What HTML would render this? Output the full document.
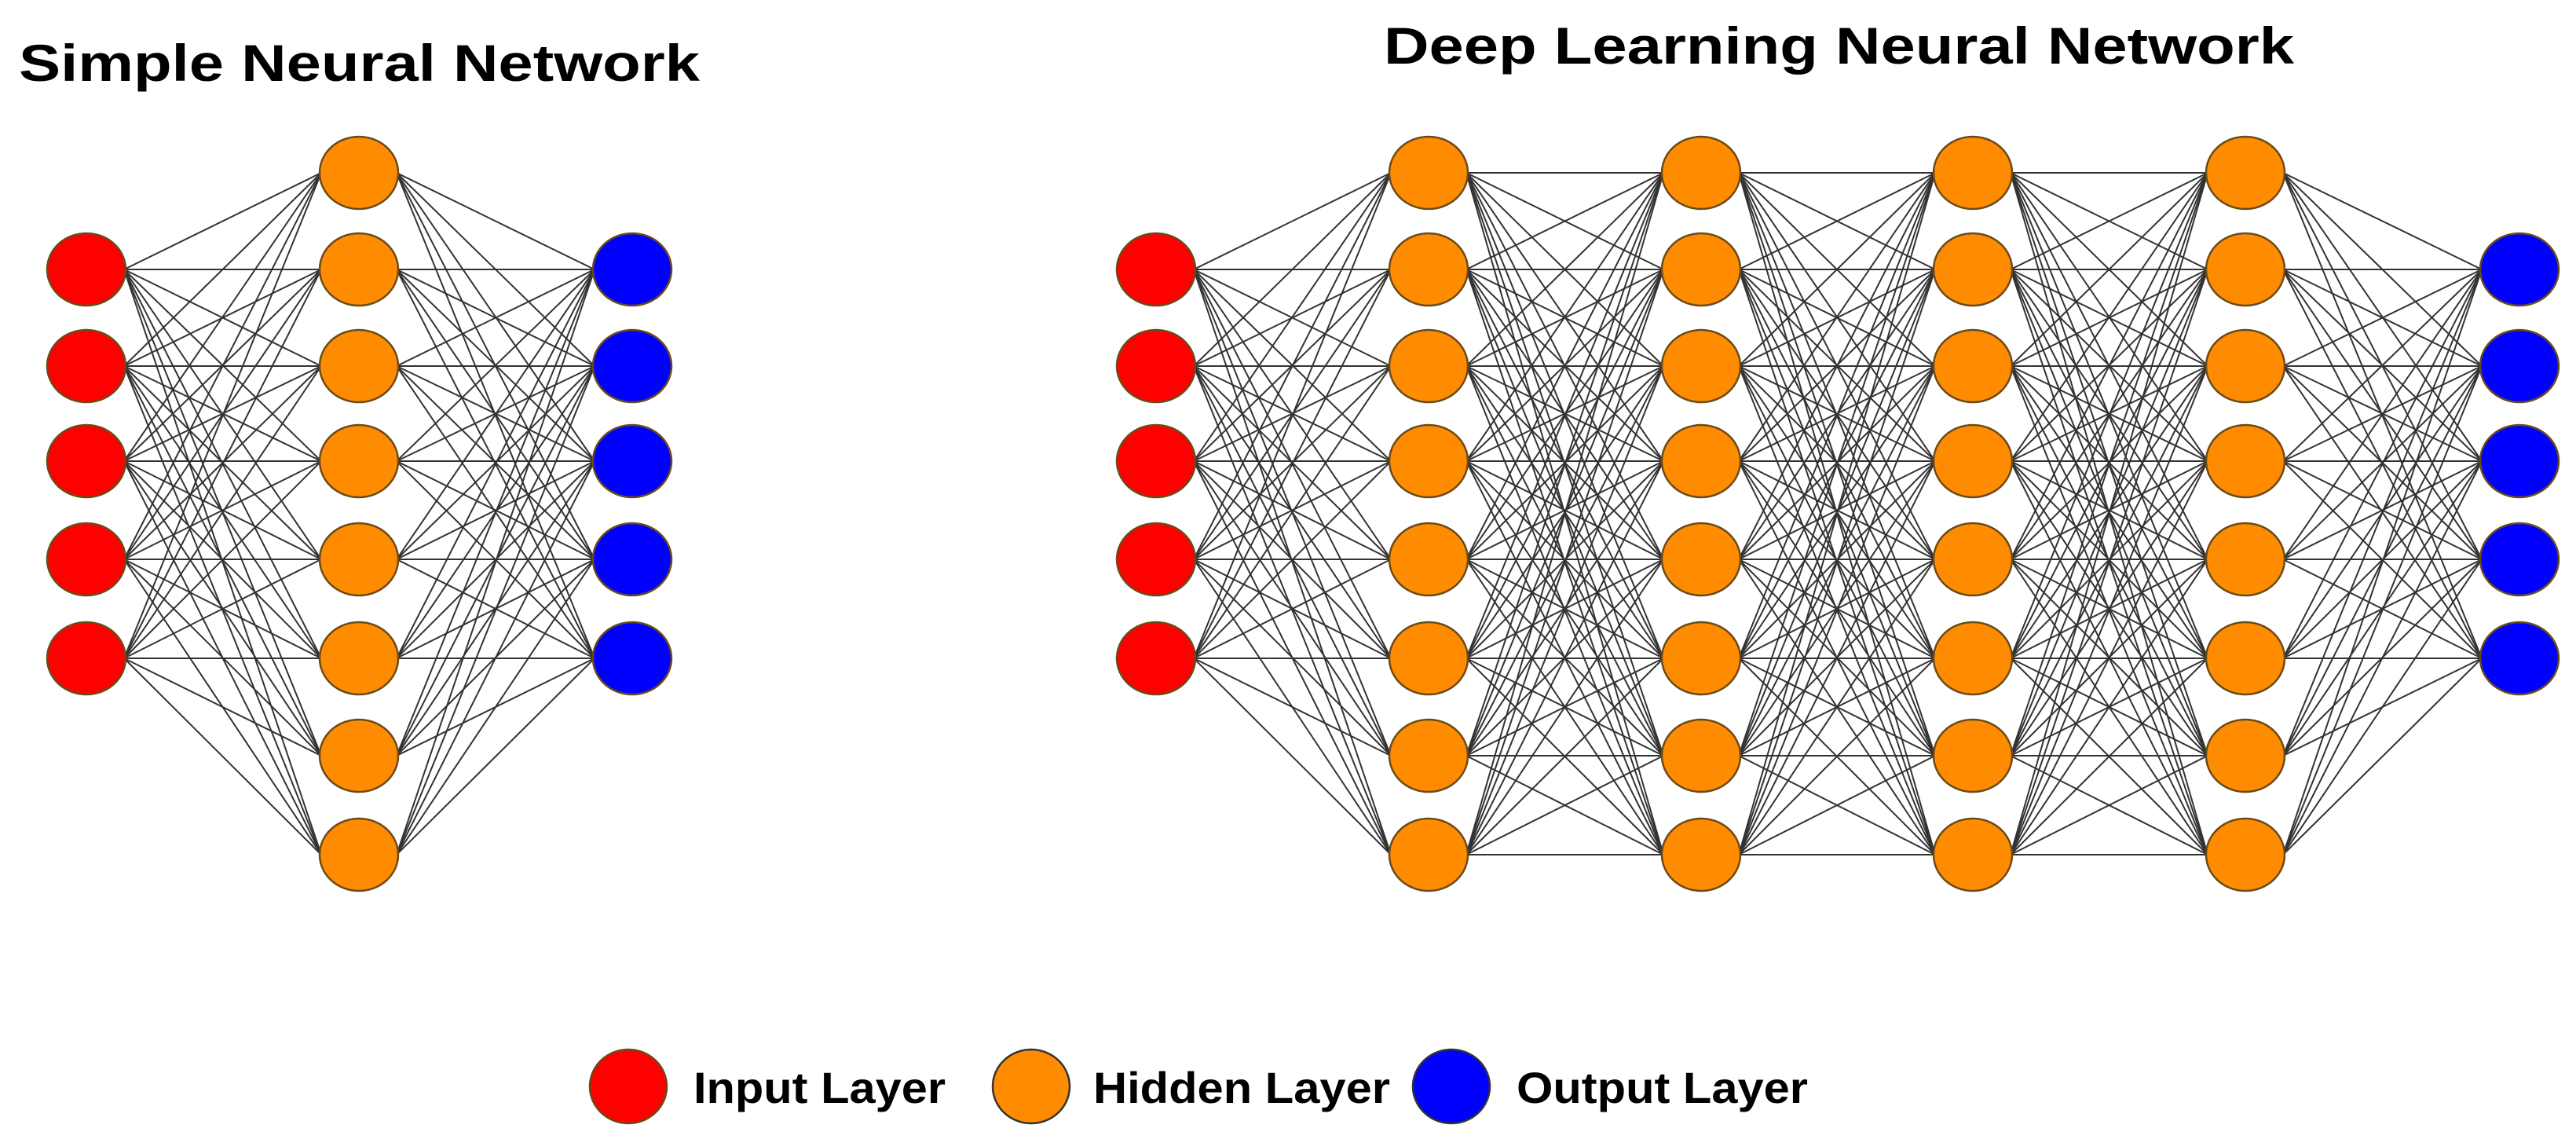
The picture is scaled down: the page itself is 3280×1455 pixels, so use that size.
<!DOCTYPE html>
<html><head><meta charset="utf-8"><style>
html,body{margin:0;padding:0;background:#fff;}
svg{display:block;}
text{font-family:"Liberation Sans",Arial,sans-serif;font-weight:bold;fill:#000;}
</style></head><body>
<svg id="s" width="3280" height="1455" viewBox="0 0 3280 1455" xmlns="http://www.w3.org/2000/svg">
<g id="lines" stroke="#333" stroke-width="2" fill="none"></g>
<g id="nodes" stroke="#6b4a1a" stroke-width="2.5"></g>
<text x="24" y="103" font-size="66" textLength="867" lengthAdjust="spacingAndGlyphs">Simple Neural Network</text>
<text x="1762" y="81" font-size="66" textLength="1159" lengthAdjust="spacingAndGlyphs">Deep Learning Neural Network</text>
<ellipse cx="800" cy="1383" rx="49" ry="47" fill="#ff0000" stroke="#6b4a1a" stroke-width="2.5"/>
<ellipse cx="1313" cy="1383" rx="49" ry="47" fill="#ff8c00" stroke="#333" stroke-width="2.5"/>
<ellipse cx="1848" cy="1383" rx="49" ry="47" fill="#0000ff" stroke="#333" stroke-width="2.5"/>
<text x="883" y="1404" font-size="56" textLength="321" lengthAdjust="spacingAndGlyphs">Input Layer</text>
<text x="1392" y="1404" font-size="56" textLength="378" lengthAdjust="spacingAndGlyphs">Hidden Layer</text>
<text x="1931" y="1404" font-size="56" textLength="371" lengthAdjust="spacingAndGlyphs">Output Layer</text>
</svg>
<script>
var NS="http://www.w3.org/2000/svg";
var io=[343,466,587,712,838], hid=[220,343,466,587,712,838,962,1088];
var RX=50,RY=46;
var C={i:"#ff0000",h:"#ff8c00",o:"#0000ff"};
function net(cols){
  var L=document.getElementById("lines"),N=document.getElementById("nodes");
  for(var k=0;k<cols.length-1;k++){
    var a=cols[k],b=cols[k+1];
    a.ys.forEach(function(y1){b.ys.forEach(function(y2){
      var l=document.createElementNS(NS,"line");
      l.setAttribute("x1",a.x+RX-2);l.setAttribute("y1",y1);
      l.setAttribute("x2",b.x-RX+2);l.setAttribute("y2",y2);
      L.appendChild(l);});});
  }
  cols.forEach(function(c){c.ys.forEach(function(y){
    var e=document.createElementNS(NS,"ellipse");
    e.setAttribute("cx",c.x);e.setAttribute("cy",y);
    e.setAttribute("rx",RX);e.setAttribute("ry",RY);
    e.setAttribute("fill",C[c.t]);N.appendChild(e);});});
}
net([{x:110,ys:io,t:"i"},{x:457,ys:hid,t:"h"},{x:805,ys:io,t:"o"}]);
net([{x:1472,ys:io,t:"i"},{x:1819,ys:hid,t:"h"},{x:2166,ys:hid,t:"h"},{x:2512,ys:hid,t:"h"},{x:2859,ys:hid,t:"h"},{x:3208,ys:io,t:"o"}]);
</script>
</body></html>
